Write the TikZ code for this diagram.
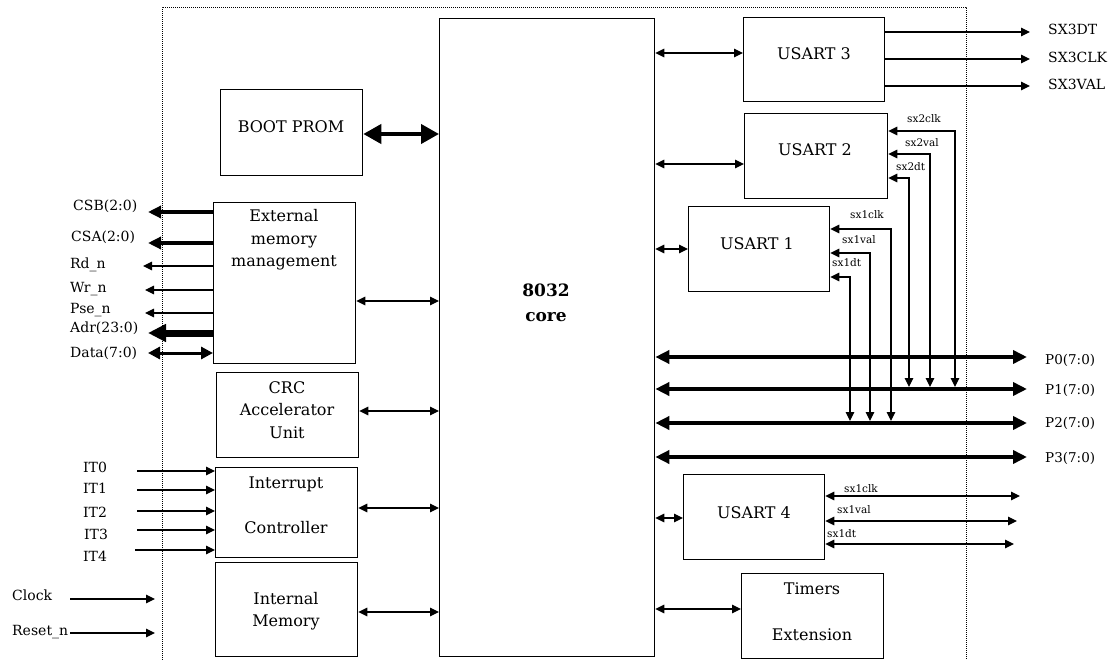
\documentclass[tikz,border=0pt]{standalone}
\usepackage{fontspec}
\setmainfont{DejaVu Serif}
\usetikzlibrary{arrows.meta}
\begin{document}
\begin{tikzpicture}[x=1pt,y=-1pt,
  box/.style={draw,line width=1.3pt,inner sep=0pt,anchor=north west},
  btxt/.style={align=center,inner sep=0pt,font=\fontsize{16}{22.5}\selectfont},
  lab/.style={anchor=base west,inner sep=0pt,font=\fontsize{14}{16}\selectfont},
  slab/.style={anchor=base west,inner sep=0pt,font=\fontsize{10.5}{12}\selectfont},
  arr/.style={line width=1.2pt,-{Triangle[length=9pt,width=8.5pt]}},
  darr/.style={line width=1.2pt,{Triangle[length=9pt,width=8.5pt]}-{Triangle[length=9pt,width=8.5pt]}},
  bus/.style={line width=4.5pt,{Triangle[length=14pt,width=13pt]}-{Triangle[length=14pt,width=13pt]}},
  bootarr/.style={line width=4pt,{Triangle[length=18pt,width=19pt]}-{Triangle[length=18pt,width=19pt]}},
  csarr/.style={line width=3.5pt,-{Triangle[length=13pt,width=12pt]}},
  adrarr/.style={line width=7pt,-{Triangle[length=18pt,width=17pt]}},
  datarr/.style={line width=3pt,{Triangle[length=12pt,width=12pt]}-{Triangle[length=12pt,width=12pt]}},
  border/.style={line width=0.8pt,dash pattern=on 1pt off 1pt}]
\useasboundingbox (0,0) rectangle (1119,660);
% chip boundary
\draw[border] (162,660) -- (162,7) -- (966,7) -- (966,660);
% boxes
\node[box,minimum width=215pt,minimum height=638pt] (core) at (439,18) {};
\node[box,minimum width=142pt,minimum height=86pt] (boot) at (220,89) {};
\node[box,minimum width=142pt,minimum height=161pt] (emm) at (213,202) {};
\node[box,minimum width=142pt,minimum height=85pt] (crc) at (216,372) {};
\node[box,minimum width=142pt,minimum height=90pt] (intc) at (215,467) {};
\node[box,minimum width=142pt,minimum height=94pt] (imem) at (215,562) {};
\node[box,minimum width=141pt,minimum height=84pt] (u3) at (743,17) {};
\node[box,minimum width=143pt,minimum height=85pt] (u2) at (744,113) {};
\node[box,minimum width=141pt,minimum height=85pt] (u1) at (688,206) {};
\node[box,minimum width=141pt,minimum height=85pt] (u4) at (683,474) {};
\node[box,minimum width=142pt,minimum height=85pt] (tim) at (741,573) {};
% box texts
\node[btxt,font=\fontsize{17}{25}\selectfont\bfseries] (coret) at (546,303) {8032\\core};
\node[btxt] (boott) at (291,127) {BOOT PROM};
\node[btxt] (emmt) at (284,240) {External\\memory\\management};
\node[btxt] (crct) at (287,410) {CRC\\Accelerator\\Unit};
\node[btxt,font=\fontsize{16}{45}\selectfont] (intct) at (286,505) {Interrupt\\Controller};
\node[btxt] (imemt) at (286,611) {Internal\\Memory};
\node[btxt] (u3t) at (814,54) {USART 3};
\node[btxt] (u2t) at (815,150) {USART 2};
\node[btxt] (u1t) at (757,244) {USART 1};
\node[btxt] (u4t) at (754,512.5) {USART 4};
\node[btxt,font=\fontsize{16}{46}\selectfont] (timt) at (812,612) {Timers\\Extension};
% core connections
\draw[bootarr] (boot.east |- 0,134) -- (core.west |- 0,134);
\draw[darr] (emm.east |- 0,301) -- (core.west |- 0,301);
\draw[darr] (crc.east |- 0,411) -- (core.west |- 0,411);
\draw[darr] (intc.east |- 0,508) -- (core.west |- 0,508);
\draw[darr] (imem.east |- 0,612) -- (core.west |- 0,612);
\draw[darr] (core.east |- 0,53) -- (u3.west |- 0,53);
\draw[darr] (core.east |- 0,164) -- (u2.west |- 0,164);
\draw[darr] (core.east |- 0,249) -- (u1.west |- 0,249);
\draw[darr] (core.east |- 0,518) -- (u4.west |- 0,518);
\draw[darr] (core.east |- 0,609) -- (tim.west |- 0,609);
% ports
\coordinate (p0) at (1027,357);
\coordinate (p1) at (1027,389);
\coordinate (p2) at (1027,423);
\coordinate (p3) at (1027,457);
\draw[bus] (core.east |- p0) -- (p0);
\draw[bus] (core.east |- p1) -- (p1);
\draw[bus] (core.east |- p2) -- (p2);
\draw[bus] (core.east |- p3) -- (p3);
\node[lab,font=\fontsize{13.5}{16}\selectfont] (p0l) at (1045,364) {P0(7:0)};
\node[lab,font=\fontsize{13.5}{16}\selectfont] (p1l) at (1045,394) {P1(7:0)};
\node[lab,font=\fontsize{13.5}{16}\selectfont] (p2l) at (1045,427) {P2(7:0)};
\node[lab,font=\fontsize{13.5}{16}\selectfont] (p3l) at (1045,462) {P3(7:0)};
% external memory signals
\coordinate (csb) at (148,212);
\coordinate (csa) at (148,243);
\coordinate (rd) at (143,266);
\coordinate (wr) at (145,290);
\coordinate (pse) at (145,313);
\coordinate (adr) at (148,333);
\coordinate (dat) at (148,353);
\draw[csarr] (emm.west |- csb) -- (csb);
\draw[csarr] (emm.west |- csa) -- (csa);
\draw[arr] (emm.west |- rd) -- (rd);
\draw[arr] (emm.west |- wr) -- (wr);
\draw[arr] (emm.west |- pse) -- (pse);
\draw[adrarr] (emm.west |- adr) -- (adr);
\draw[datarr] (dat) -- (emm.west |- dat);
\node[lab] (csbl) at (73,211) {CSB(2:0)};
\node[lab] (csal) at (71,242) {CSA(2:0)};
\node[lab] (rdl) at (70,269) {Rd\_n};
\node[lab] (wrl) at (70,293) {Wr\_n};
\node[lab] (psel) at (70,313) {Pse\_n};
\node[lab] (adrl) at (70,332) {Adr(23:0)};
\node[lab] (datl) at (70,357) {Data(7:0)};
% interrupts
\coordinate (it0) at (137,471);
\coordinate (it1) at (137,490);
\coordinate (it2) at (137,511);
\coordinate (it3) at (137,530);
\coordinate (it4) at (135,550);
\foreach \i in {0,...,4} {\draw[arr] (it\i) -- (intc.west |- it\i);}
\node[lab] (it0l) at (83,472) {IT0};
\node[lab] (it1l) at (83,493) {IT1};
\node[lab] (it2l) at (83,517) {IT2};
\node[lab] (it3l) at (84,539) {IT3};
\node[lab] (it4l) at (83,561) {IT4};
% clock / reset
\coordinate (clka) at (70,599);
\coordinate (clkb) at (155,599);
\coordinate (rsta) at (70,633);
\coordinate (rstb) at (155,633);
\draw[arr] (clka) -- (clkb);
\draw[arr] (rsta) -- (rstb);
\node[lab] (clkl) at (12,600) {Clock};
\node[lab] (rstl) at (12,635) {Reset\_n};
% USART 3 outputs
\coordinate (sx3dt) at (1030,32);
\coordinate (sx3clk) at (1030,59);
\coordinate (sx3val) at (1030,86);
\draw[arr] (u3.east |- sx3dt) -- (sx3dt);
\draw[arr] (u3.east |- sx3clk) -- (sx3clk);
\draw[arr] (u3.east |- sx3val) -- (sx3val);
\node[lab] (sx3dtl) at (1048,35) {SX3DT};
\node[lab] (sx3clkl) at (1048,63) {SX3CLK};
\node[lab] (sx3vall) at (1048,90) {SX3VAL};
% USART 2 to P1
\coordinate (c2clk) at (955,387);
\coordinate (c2val) at (930,387);
\coordinate (c2dt) at (909,387);
\draw[darr] (u2.east |- 0,131) -| (c2clk);
\draw[darr] (u2.east |- 0,154) -| (c2val);
\draw[darr] (u2.east |- 0,178) -| (c2dt);
\node[slab] (s2clk) at (907,123) {sx2clk};
\node[slab] (s2val) at (905,147) {sx2val};
\node[slab] (s2dt) at (896,171) {sx2dt};
% USART 1 to P2
\coordinate (c1clk) at (891,421);
\coordinate (c1val) at (870,421);
\coordinate (c1dt) at (850,421);
\draw[darr] (u1.east |- 0,229) -| (c1clk);
\draw[darr] (u1.east |- 0,253) -| (c1val);
\draw[darr] (u1.east |- 0,277) -| (c1dt);
\node[slab] (s1clk) at (850,219) {sx1clk};
\node[slab] (s1val) at (842,244) {sx1val};
\node[slab] (s1dt) at (832,267) {sx1dt};
% USART 4 lines
\coordinate (c4clk) at (1020,496);
\coordinate (c4val) at (1017,521);
\coordinate (c4dt) at (1014,544);
\draw[darr] (u4.east |- c4clk) -- (c4clk);
\draw[darr] (u4.east |- c4val) -- (c4val);
\draw[darr] (u4.east |- c4dt) -- (c4dt);
\node[slab] (s4clk) at (844,492) {sx1clk};
\node[slab] (s4val) at (837,513) {sx1val};
\node[slab] (s4dt) at (827,537) {sx1dt};
\end{tikzpicture}
\end{document}
